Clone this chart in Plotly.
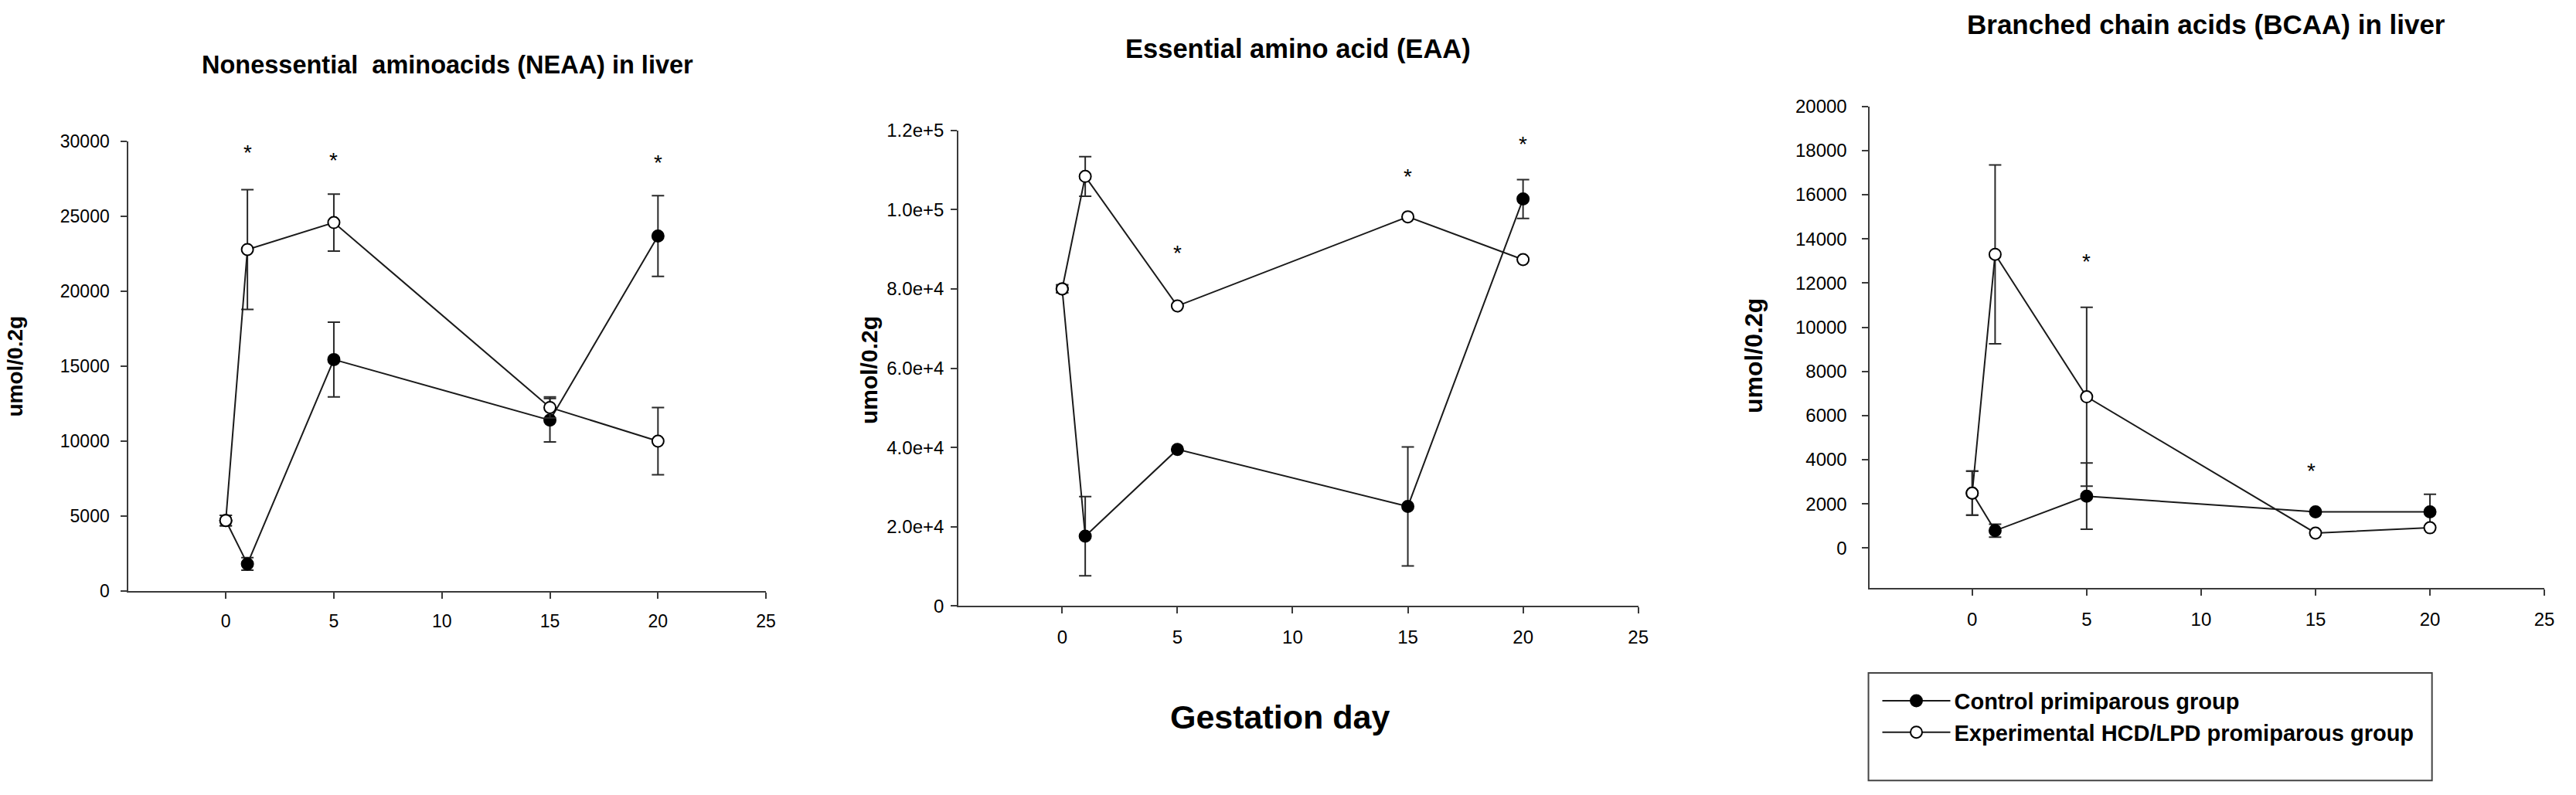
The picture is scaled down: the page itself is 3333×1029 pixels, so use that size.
import plotly.graph_objects as go

# ---------------- data ----------------
days = [0, 1, 5, 15, 20]
x_ticks = [0, 5, 10, 15, 20, 25]

neaa_control = [4700, 1800, 15450, 11400, 23700]
neaa_control_err = [350, 420, 2500, 1450, 2700]
neaa_exp = [4700, 22800, 24600, 12250, 10000]
neaa_exp_err = [350, 4000, 1900, 700, 2250]
neaa_star_x = [1, 5, 20]
neaa_star_y = [29600, 29050, 28900]
neaa_yticks = [0, 5000, 10000, 15000, 20000, 25000, 30000]
neaa_yticklabels = ["0", "5000", "10000", "15000", "20000", "25000", "30000"]

eaa_control = [80000, 17600, 39500, 25100, 102700]
eaa_control_err = [1000, 10000, 0, 15000, 4900]
eaa_exp = [80000, 108400, 75700, 98200, 87400]
eaa_exp_err = [1000, 5000, 0, 0, 0]
eaa_star_x = [1, 5, 15, 20]
eaa_star_y = [123000, 90300, 109500, 117800]
eaa_yticks = [0, 20000, 40000, 60000, 80000, 100000, 120000]
eaa_yticklabels = ["0", "2.0e+4", "4.0e+4", "6.0e+4", "8.0e+4", "1.0e+5", "1.2e+5"]

bcaa_control = [2490, 790, 2350, 1640, 1640]
bcaa_control_err = [1000, 290, 1500, 0, 800]
bcaa_exp = [2490, 13300, 6850, 680, 920]
bcaa_exp_err = [1000, 4050, 4050, 0, 0]
bcaa_star_x = [0.8, 5, 14.8]
bcaa_star_y = [20170, 13190, 3700]
bcaa_yticks = [0, 2000, 4000, 6000, 8000, 10000, 12000, 14000, 16000, 18000, 20000]
bcaa_yticklabels = [str(v) for v in bcaa_yticks]

titles = ["Nonessential  aminoacids (NEAA) in liver",
          "Essential amino acid (EAA)",
          "Branched chain acids (BCAA) in liver"]
y_title = "umol/0.2g"
x_title = "Gestation day"
legend_names = ["Control primiparous group", "Experimental HCD/LPD promiparous group"]

# ---------------- layout geometry (pixels) ----------------
W, H = 3333, 1029
FONT = "Liberation Sans, Arial, sans-serif"
AX = "#3a3a3a"

def px_x(p):
    return p / W

def px_y(p):
    return (H - p) / H

panels = [
    dict(xd=(167, 995), yd=(771, 174), yr=[0, 30000], tv=neaa_yticks, tt=neaa_yticklabels,
         ctrl=neaa_control, ctrl_e=neaa_control_err, exp=neaa_exp, exp_e=neaa_exp_err,
         sx=neaa_star_x, sy=neaa_star_y, tfs=23, ysoff=10, title_xy=(581, 71.5), title_fs=32.5,
         ytitle_xy=(20, 472), ytitle_fs=28),
    dict(xd=(1245, 2128), yd=(791, 159), yr=[0, 120000], tv=eaa_yticks, tt=eaa_yticklabels,
         ctrl=eaa_control, ctrl_e=eaa_control_err, exp=eaa_exp, exp_e=eaa_exp_err,
         sx=eaa_star_x, sy=eaa_star_y, tfs=24, ysoff=4, title_xy=(1686, 50), title_fs=34.5,
         ytitle_xy=(1129, 478), ytitle_fs=30),
    dict(xd=(2428, 3305), yd=(767, 127), yr=[-1800, 20000], tv=bcaa_yticks, tt=bcaa_yticklabels,
         ctrl=bcaa_control, ctrl_e=bcaa_control_err, exp=bcaa_exp, exp_e=bcaa_exp_err,
         sx=bcaa_star_x, sy=bcaa_star_y, tfs=24, ysoff=14, title_xy=(2866, 17.5), title_fs=35,
         ytitle_xy=(2278, 459), ytitle_fs=32),
]

fig = go.Figure()
annotations = []

for i, p in enumerate(panels):
    n = "" if i == 0 else str(i + 1)
    xa, ya = "x" + n, "y" + n
    show = (i == 2)
    fig.add_trace(go.Scatter(
        x=days, y=p["ctrl"], xaxis=xa, yaxis=ya, mode="lines+markers",
        name=legend_names[0], showlegend=show, legendrank=1,
        line=dict(color="#1a1a1a", width=2),
        marker=dict(symbol="circle", size=15, color="black", line=dict(color="black", width=2)),
        error_y=dict(type="data", array=p["ctrl_e"], visible=True, color="#2a2a2a",
                     thickness=2, width=8),
    ))
    fig.add_trace(go.Scatter(
        x=days, y=p["exp"], xaxis=xa, yaxis=ya, mode="lines+markers",
        name=legend_names[1], showlegend=show, legendrank=2,
        line=dict(color="#1a1a1a", width=2),
        marker=dict(symbol="circle", size=15, color="white", line=dict(color="black", width=2)),
        error_y=dict(type="data", array=p["exp_e"], visible=True, color="#2a2a2a",
                     thickness=2, width=8),
    ))
    axis_common = dict(showline=True, linecolor=AX, linewidth=2, ticks="outside",
                       ticklen=8, tickwidth=2, tickcolor=AX, showgrid=False,
                       zeroline=False, tickfont=dict(family=FONT, size=p["tfs"], color="black"))
    fig.update_layout(**{
        ("xaxis" + n): dict(domain=[px_x(p["xd"][0]), px_x(p["xd"][1])], range=[-4.5, 25],
                            anchor=ya, tickmode="array", tickvals=x_ticks,
                            ticktext=[str(v) for v in x_ticks], ticklabelstandoff=10,
                            **axis_common),
        ("yaxis" + n): dict(domain=[px_y(p["yd"][0]), px_y(p["yd"][1])], range=p["yr"],
                            anchor=xa, tickmode="array", tickvals=p["tv"], ticktext=p["tt"],
                            ticklabelstandoff=p["ysoff"], **axis_common),
    })
    for sx, sy in zip(p["sx"], p["sy"]):
        annotations.append(dict(x=sx, y=sy, xref=xa, yref=ya, text="*", showarrow=False,
                                font=dict(family=FONT, size=28, color="black"),
                                xanchor="center", yanchor="middle", yshift=-6))
    annotations.append(dict(x=px_x(p["title_xy"][0]), y=px_y(p["title_xy"][1]),
                            xref="paper", yref="paper", text=titles[i], showarrow=False,
                            font=dict(family=FONT, size=p["title_fs"], color="black", weight="bold"),
                            xanchor="center", yanchor="middle"))
    annotations.append(dict(x=px_x(p["ytitle_xy"][0]), y=px_y(p["ytitle_xy"][1]),
                            xref="paper", yref="paper", text=y_title, showarrow=False,
                            textangle=-90,
                            font=dict(family=FONT, size=p["ytitle_fs"], color="black", weight="bold"),
                            xanchor="center", yanchor="middle"))

annotations.append(dict(x=px_x(1662), y=px_y(939), xref="paper", yref="paper", text=x_title,
                        showarrow=False, font=dict(family=FONT, size=43, color="black", weight="bold"),
                        xanchor="center", yanchor="middle"))

fig.update_layout(
    width=W, height=H, margin=dict(l=0, r=0, t=0, b=0),
    paper_bgcolor="white", plot_bgcolor="white",
    annotations=annotations,
    shapes=[dict(type="rect", xref="paper", yref="paper",
                 x0=px_x(2427), x1=px_x(3159), y0=px_y(1023), y1=px_y(880),
                 line=dict(color="#444444", width=2), fillcolor="rgba(0,0,0,0)")],
    legend=dict(x=px_x(2440), y=px_y(891), xanchor="left", yanchor="top",
                bgcolor="rgba(0,0,0,0)", borderwidth=0, itemwidth=88,
                font=dict(family=FONT, size=29, color="black", weight="bold"),
                tracegroupgap=0),
    font=dict(family=FONT, color="black"),
)

fig.write_html("out.html", config={"displayModeBar": False},
               post_script="document.body.style.margin='0';")
